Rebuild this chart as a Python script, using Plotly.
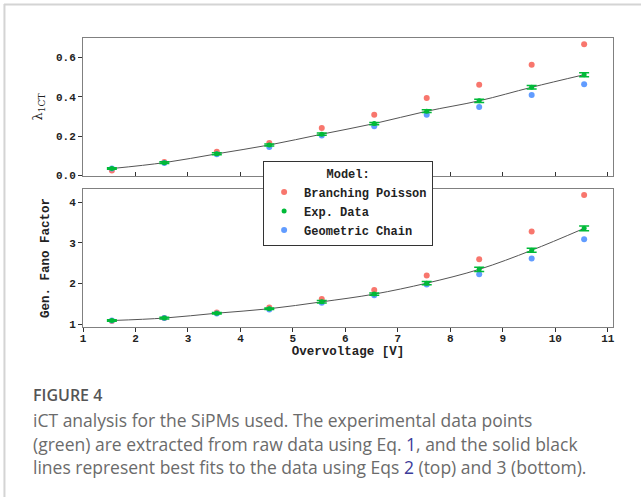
import plotly.graph_objects as go

overvoltage = [1.55, 2.55, 3.55, 4.55, 5.55, 6.55, 7.55, 8.55, 9.55, 10.55]

lam_exp = [0.035, 0.065, 0.110, 0.155, 0.210, 0.264, 0.327, 0.380, 0.449, 0.513]
lam_exp_err = [0.004, 0.004, 0.005, 0.005, 0.006, 0.006, 0.007, 0.008, 0.009, 0.010]
lam_bp = [0.025, 0.068, 0.120, 0.165, 0.242, 0.309, 0.394, 0.462, 0.564, 0.668]
lam_gc = [0.035, 0.063, 0.108, 0.145, 0.203, 0.251, 0.309, 0.348, 0.409, 0.464]

fano_exp = [1.09, 1.15, 1.27, 1.38, 1.55, 1.74, 2.01, 2.35, 2.82, 3.36]
fano_exp_err = [0.02, 0.02, 0.02, 0.02, 0.03, 0.03, 0.04, 0.05, 0.05, 0.06]
fano_bp = [1.08, 1.15, 1.29, 1.41, 1.62, 1.84, 2.20, 2.60, 3.28, 4.18]
fano_gc = [1.09, 1.15, 1.26, 1.36, 1.53, 1.71, 1.98, 2.23, 2.62, 3.09]

x_ticks = list(range(1, 12))
lam_ticks = [0.0, 0.2, 0.4, 0.6]
fano_ticks = [1, 2, 3, 4]

RED = "#F8766D"
GREEN = "#00BA38"
BLUE = "#619CFF"
MONO = "Courier New, Liberation Mono, monospace"

# pixel layout helpers
L, R, T, B = 83, 612.7, 38, 327
W, H = R - L, B - T
def px(x):
    return (x - L) / W
def py(y):
    return (B - y) / H

fig = go.Figure()

for (yax, xax, bp, ex, err, gc, show) in [
    ("y", "x", lam_bp, lam_exp, lam_exp_err, lam_gc, True),
    ("y2", "x2", fano_bp, fano_exp, fano_exp_err, fano_gc, False),
]:
    fig.add_trace(go.Scatter(x=overvoltage, y=bp, mode="markers", name="Branching Poisson",
                             marker=dict(color=RED, size=6), xaxis=xax, yaxis=yax,
                             showlegend=show, legendrank=1))
    fig.add_trace(go.Scatter(x=overvoltage, y=gc, mode="markers", name="Geometric Chain",
                             marker=dict(color=BLUE, size=6), xaxis=xax, yaxis=yax,
                             showlegend=show, legendrank=3))
    fig.add_trace(go.Scatter(x=overvoltage, y=ex, mode="lines", line=dict(color="#555", width=1, shape="spline"),
                             xaxis=xax, yaxis=yax, showlegend=False, hoverinfo="skip"))
    fig.add_trace(go.Scatter(x=overvoltage, y=ex, mode="markers", name="Exp. Data",
                             marker=dict(color=GREEN, size=5),
                             error_y=dict(type="data", array=err, color=GREEN, thickness=1.5, width=5),
                             xaxis=xax, yaxis=yax, showlegend=show, legendrank=2))

axis_common = dict(showline=True, linecolor="#808080", linewidth=1, mirror=True,
                   showgrid=False, zeroline=False, tickcolor="#333", ticklen=4,
                   tickfont=dict(family=MONO, size=11, color="#222", weight="bold"))

TITLE_FONT = dict(family=MONO, size=12.5, color="#222", weight="bold")

fig.update_layout(
    width=641, height=497,
    margin=dict(l=L, r=641 - R, t=T, b=497 - B),
    paper_bgcolor="white", plot_bgcolor="white",
    xaxis=dict(domain=[0, 1], anchor="y", range=[1, 11.1], tickvals=x_ticks,
               showticklabels=False, ticks="inside", **axis_common),
    yaxis=dict(domain=[py(176), 1], anchor="x", range=[-0.003, 0.7], tickvals=lam_ticks,
               tickformat=".1f", ticks="outside",
               title=dict(text="λ<sub>1CT</sub>", font=dict(family="DejaVu Serif", size=13, color="#222"), standoff=10),
               **axis_common),
    xaxis2=dict(domain=[0, 1], anchor="y2", range=[1, 11.1], tickvals=x_ticks, ticks="outside",
                ticklabelstandoff=-3,
                title=dict(text="Overvoltage [V]", font=TITLE_FONT, standoff=0),
                **axis_common),
    yaxis2=dict(domain=[0, py(189)], anchor="x2", range=[0.93, 4.33], tickvals=fano_ticks, ticks="outside",
                title=dict(text="Gen. Fano Factor", font=TITLE_FONT, standoff=16),
                **axis_common),
    legend=dict(x=px(263), y=py(161), xanchor="left", yanchor="top",
                bgcolor="white", bordercolor="#333", borderwidth=1,
                font=dict(family=MONO, size=12, color="#222", weight="bold"),
                title=dict(text="Model:", side="top center", font=dict(family=MONO, size=12, color="#222", weight="bold")),
                itemwidth=30, tracegroupgap=0, traceorder="normal"),
    showlegend=True,
)

# page frame lines (journal screenshot border)
fig.add_shape(type="line", xref="paper", yref="paper", x0=px(4), x1=px(641), y0=py(4.5), y1=py(4.5),
              line=dict(color="#d4d4d4", width=2))
fig.add_shape(type="line", xref="paper", yref="paper", x0=px(4.5), x1=px(4.5), y0=py(4), y1=py(497),
              line=dict(color="#d4d4d4", width=2))

CAP_FONT = "Open Sans, Lato, sans-serif"
fig.add_annotation(text="FIGURE 4", xref="paper", yref="paper", x=px(31), y=py(395),
                   xanchor="left", yanchor="middle", showarrow=False,
                   font=dict(family=CAP_FONT, size=16, color="#555", weight=600))
cap_lines = [
    "iCT analysis for the SiPMs used. The experimental data points",
    "(green) are extracted from raw data using Eq. <span style='color:#3b3b9a'>1</span>, and the solid black",
    "lines represent best fits to the data using Eqs <span style='color:#3b3b9a'>2</span> (top) and 3 (bottom).",
]
for i, line in enumerate(cap_lines):
    fig.add_annotation(text=line, xref="paper", yref="paper", x=px(31), y=py(420 + 23.5 * i),
                       xanchor="left", yanchor="middle", showarrow=False,
                       font=dict(family=CAP_FONT, size=17.5, color="#6b6b6b"))

fig.write_html("out.html")
